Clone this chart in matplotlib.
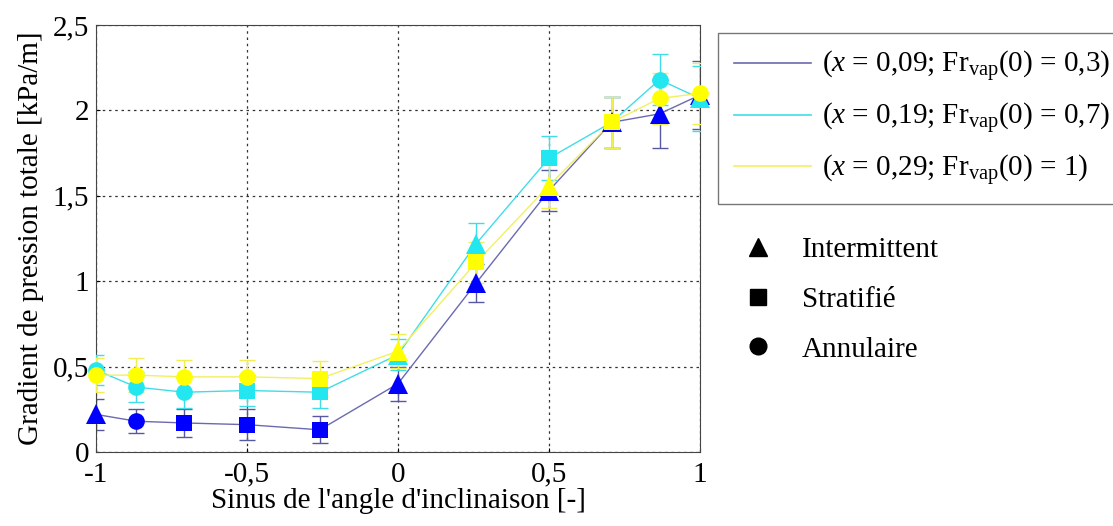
import matplotlib.pyplot as plt
from matplotlib.lines import Line2D
import numpy as np

plt.rcParams['font.family'] = 'Liberation Serif'
plt.rcParams['mathtext.fontset'] = 'custom'
plt.rcParams['mathtext.rm'] = 'Liberation Serif'
plt.rcParams['mathtext.it'] = 'Liberation Serif:italic'

# sinus de l'angle d'inclinaison
sin_angle = [-1, -0.866, -0.707, -0.5, -0.259, 0, 0.259, 0.5, 0.707, 0.866, 1]

# (x = 0,09; Fr_vap(0) = 0,3)
dp1 = [0.22, 0.18, 0.17, 0.16, 0.13, 0.40, 0.99, 1.53, 1.93, 1.98, 2.09]
err1 = [0.09, 0.07, 0.08, 0.09, 0.08, 0.10, 0.11, 0.12, 0.15, 0.20, 0.20]
mk1 = ['^', 'o', 's', 's', 's', '^', '^', '^', '^', '^', '^']

# (x = 0,19; Fr_vap(0) = 0,7)
dp2 = [0.48, 0.38, 0.35, 0.36, 0.35, 0.57, 1.22, 1.72, 1.93, 2.18, 2.07]
err2 = [0.09, 0.09, 0.09, 0.09, 0.09, 0.09, 0.12, 0.13, 0.15, 0.15, 0.19]
mk2 = ['o', 'o', 'o', 's', 's', '^', '^', 's', 's', 'o', '^']

# (x = 0,29; Fr_vap(0) = 1)
dp3 = [0.45, 0.45, 0.44, 0.44, 0.43, 0.59, 1.11, 1.56, 1.93, 2.07, 2.10]
err3 = [0.10, 0.10, 0.10, 0.10, 0.10, 0.10, 0.12, 0.13, 0.15, 0.15, 0.18]
mk3 = ['o', 'o', 'o', 'o', 's', '^', 's', '^', 's', 'o', 'o']

labels = [r'($x$ = 0,09; Fr$_{\mathrm{vap}}$(0) = 0,3)',
          r'($x$ = 0,19; Fr$_{\mathrm{vap}}$(0) = 0,7)',
          r'($x$ = 0,29; Fr$_{\mathrm{vap}}$(0) = 1)']
line_cols = ['#6a6ab0', '#40dde8', '#f2f060']
mark_cols = ['#0000ff', '#22e6f0', '#ffff00']
err_cols = ['#5858a0', '#40dde8', '#f0ee50']

fig = plt.figure(figsize=(11.13, 5.26), dpi=100)
ax = fig.add_axes([96/1113, 1-452/526, 604/1113, 427/526])

series = [(dp1, err1, mk1), (dp2, err2, mk2), (dp3, err3, mk3)]
for i, (dp, err, mk) in enumerate(series):
    ax.errorbar(sin_angle, dp, yerr=err, fmt='none', ecolor=err_cols[i],
                elinewidth=1.0, capsize=6, capthick=1.0, zorder=2 + i)
    ax.plot(sin_angle, dp, '-', color=line_cols[i], linewidth=1.0, zorder=2 + i)
    for xv, yv, m in zip(sin_angle, dp, mk):
        ms = 14 if m == '^' else (12 if m == 'o' else 11)
        ax.plot(xv, yv, m, color=mark_cols[i], markersize=ms,
                markeredgewidth=0, zorder=5 + i, clip_on=False)

ax.set_xlim(-1, 1)
ax.set_ylim(0, 2.5)
ax.set_xticks([-1, -0.5, 0, 0.5, 1])
ax.set_xticklabels(['-1', '-0,5', '0', '0,5', '1'])
ax.set_yticks([0, 0.5, 1, 1.5, 2, 2.5])
ax.set_yticklabels(['0', '0,5', '1', '1,5', '2', '2,5'])
ax.tick_params(labelsize=21, direction='in', length=3)
ax.tick_params(axis='x', pad=7)
ax.tick_params(axis='y', pad=5)
ax.grid(True, linestyle=(0, (2, 3)), color='#333333', linewidth=0.9)
for sp in ax.spines.values():
    sp.set_color('#444444')
ax.set_xlabel("Sinus de l'angle d'inclinaison [-]", fontsize=21, labelpad=0)
ax.set_ylabel('Gradient de pression totale [kPa/m]', fontsize=21, labelpad=6)

handles = [Line2D([], [], color=c, linewidth=1.2) for c in line_cols]
leg = fig.legend(handles, labels, loc='upper left', bbox_to_anchor=(718/1113, 1-33/526),
                 fontsize=21, frameon=True, fancybox=False, edgecolor='#555555',
                 handlelength=2.65, handletextpad=0.38, labelspacing=0.58,
                 borderpad=0.55, borderaxespad=0)
leg.get_frame().set_linewidth(1.0)

mhandles = [Line2D([], [], marker=m, linestyle='none', color='black', markersize=ms)
            for m, ms in [('^', 13), ('s', 11), ('o', 12)]]
fig.legend(mhandles, ['Intermittent', 'Stratifié', 'Annulaire'], loc='upper left',
           bbox_to_anchor=(717/1113, 1-225/526), fontsize=21, frameon=False,
           handletextpad=0.5, labelspacing=0.8, borderaxespad=0)

fig.savefig('out.png', dpi=100)
